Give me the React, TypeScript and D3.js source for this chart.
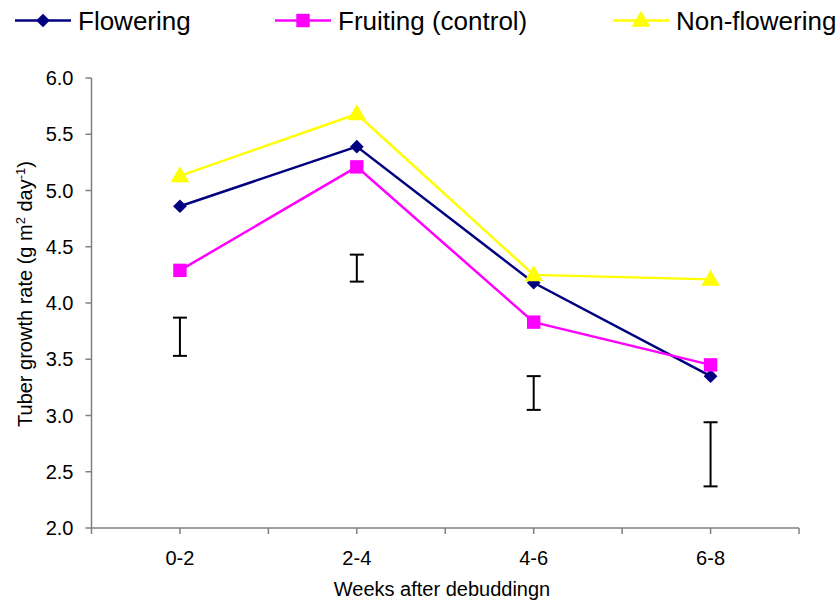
import React from "react";
import * as d3 from "d3";

// categories and series
const weeks = ["0-2", "2-4", "4-6", "6-8"];
const flowering = [4.86, 5.39, 4.18, 3.35];
const fruiting = [4.29, 5.21, 3.83, 3.45];
const nonFlowering = [5.13, 5.68, 4.25, 4.21];
// LSD bars: [low, high]
const errLow = [3.53, 4.19, 3.05, 2.37];
const errHigh = [3.87, 4.43, 3.35, 2.94];
const yTicks = [2.0, 2.5, 3.0, 3.5, 4.0, 4.5, 5.0, 5.5, 6.0];

const series = [
  { name: "Flowering", values: flowering, color: "#000080", shape: "diamond" },
  { name: "Fruiting (control)", values: fruiting, color: "#FF00FF", shape: "square" },
  { name: "Non-flowering", values: nonFlowering, color: "#FFFF00", shape: "triangle" },
];

const W = 840;
const H = 606;
const FONT = "'Liberation Sans', Arial, sans-serif";

const App = () => {
  const svgRef = React.useRef<SVGSVGElement | null>(null);

  React.useEffect(() => {
    const svg = d3.select(svgRef.current);
    svg.selectAll("*").remove();

    const left = 91.5;
    const right = 799;
    const top = 78;
    const bottom = 528;

    const x = d3.scaleBand().domain(weeks).range([left, right]);
    const cx = (d: string) => (x(d) as number) + x.bandwidth() / 2;
    const y = d3.scaleLinear().domain([2, 6]).range([bottom, top]);

    const axisColor = "#808080";

    // y axis
    svg.append("line")
      .attr("x1", left).attr("x2", left)
      .attr("y1", top).attr("y2", bottom)
      .attr("stroke", axisColor).attr("stroke-width", 1.5);
    svg.selectAll("ytick")
      .data(yTicks)
      .enter()
      .append("line")
      .attr("x1", left - 6).attr("x2", left)
      .attr("y1", (d) => y(d)).attr("y2", (d) => y(d))
      .attr("stroke", axisColor).attr("stroke-width", 1.5);
    svg.selectAll("ylab")
      .data(yTicks)
      .enter()
      .append("text")
      .attr("x", left - 18)
      .attr("y", (d) => y(d) + 7)
      .attr("text-anchor", "end")
      .style("font-family", FONT)
      .style("font-size", "20px")
      .text((d) => d.toFixed(1));

    // x axis
    svg.append("line")
      .attr("x1", left).attr("x2", right)
      .attr("y1", bottom).attr("y2", bottom)
      .attr("stroke", axisColor).attr("stroke-width", 1.5);
    const xTickPos: number[] = [];
    weeks.forEach((w) => {
      xTickPos.push(x(w) as number);
      xTickPos.push(cx(w));
    });
    xTickPos.push(right);
    svg.selectAll("xtick")
      .data(xTickPos)
      .enter()
      .append("line")
      .attr("x1", (d) => d).attr("x2", (d) => d)
      .attr("y1", bottom).attr("y2", bottom + 6)
      .attr("stroke", axisColor).attr("stroke-width", 1.5);
    svg.selectAll("xlab")
      .data(weeks)
      .enter()
      .append("text")
      .attr("x", (d) => cx(d))
      .attr("y", 565)
      .attr("text-anchor", "middle")
      .style("font-family", FONT)
      .style("font-size", "20px")
      .text((d) => d);

    // axis titles
    svg.append("text")
      .attr("x", 442)
      .attr("y", 596)
      .attr("text-anchor", "middle")
      .style("font-family", FONT)
      .style("font-size", "20px")
      .text("Weeks after debuddingn");

    const yt = svg.append("text")
      .attr("transform", `translate(32, 294) rotate(-90)`)
      .attr("text-anchor", "middle")
      .style("font-family", FONT)
      .style("font-size", "20px");
    yt.append("tspan").text("Tuber growth rate (g m");
    yt.append("tspan").attr("dy", -7).style("font-size", "13px").text("2");
    yt.append("tspan").attr("dy", 7).text(" day");
    yt.append("tspan").attr("dy", -7).style("font-size", "13px").text("-1");
    yt.append("tspan").attr("dy", 7).text(")");

    // error bars
    const cap = 7;
    const eb = svg.selectAll("errbar")
      .data(weeks)
      .enter()
      .append("g")
      .attr("stroke", "#000")
      .attr("stroke-width", 2);
    eb.append("line")
      .attr("x1", (d) => cx(d)).attr("x2", (d) => cx(d))
      .attr("y1", (_d, i) => y(errLow[i])).attr("y2", (_d, i) => y(errHigh[i]));
    eb.append("line")
      .attr("x1", (d) => cx(d) - cap).attr("x2", (d) => cx(d) + cap)
      .attr("y1", (_d, i) => y(errLow[i])).attr("y2", (_d, i) => y(errLow[i]));
    eb.append("line")
      .attr("x1", (d) => cx(d) - cap).attr("x2", (d) => cx(d) + cap)
      .attr("y1", (_d, i) => y(errHigh[i])).attr("y2", (_d, i) => y(errHigh[i]));

    const symbolFor = (shape: string) => {
      if (shape === "diamond") return d3.symbol().type(d3.symbolDiamond2).size(120)();
      if (shape === "square") return d3.symbol().type(d3.symbolSquare).size(180)();
      return d3.symbol().type(d3.symbolTriangle).size(150)();
    };

    const line = d3.line<number>()
      .x((_d, i) => cx(weeks[i]))
      .y((d) => y(d));

    series.forEach((s) => {
      svg.append("path")
        .attr("d", line(s.values) as string)
        .attr("fill", "none")
        .attr("stroke", s.color)
        .attr("stroke-width", 2.5);
    });
    series.forEach((s) => {
      svg.selectAll(`m-${s.shape}`)
        .data(s.values)
        .enter()
        .append("path")
        .attr("d", symbolFor(s.shape) as string)
        .attr("transform", (d, i) =>
          `translate(${cx(weeks[i])}, ${y(d) + (s.shape === "triangle" ? 1 : 0)})`)
        .attr("fill", s.color);
    });

    // legend
    const legendX = [15, 275, 613];
    const legendY = 20.5;
    series.forEach((s, i) => {
      const g = svg.append("g").attr("transform", `translate(${legendX[i]}, ${legendY})`);
      g.append("line")
        .attr("x1", 0).attr("x2", 56)
        .attr("y1", 0).attr("y2", 0)
        .attr("stroke", s.color)
        .attr("stroke-width", 2.5);
      g.append("path")
        .attr("d", symbolFor(s.shape) as string)
        .attr("transform", `translate(28, ${s.shape === "triangle" ? 1 : 0})`)
        .attr("fill", s.color);
      g.append("text")
        .attr("x", 63)
        .attr("y", 9)
        .style("font-family", FONT)
        .style("font-size", "26px")
        .text(s.name);
    });
  }, []);

  return (
    <svg
      ref={svgRef}
      width={W}
      height={H}
      style={{ position: "absolute", left: 0, top: 0, background: "#fff" }}
    />
  );
};

export default App;
